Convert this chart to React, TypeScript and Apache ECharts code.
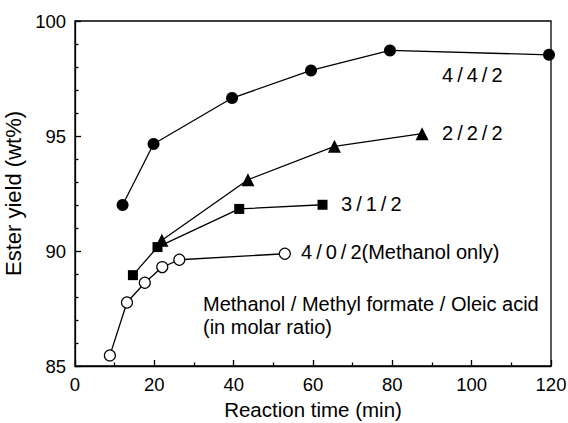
import React, { useEffect, useRef } from "react";
import * as echarts from "echarts";

const xTicks = [0, 20, 40, 60, 80, 100, 120];
const yTicks = [85, 90, 95, 100];

const s442: [number, number][] = [[12, 92.0], [19.8, 94.65], [39.6, 96.65], [59.5, 97.85], [79.4, 98.72], [119.5, 98.53]];
const s222: [number, number][] = [[21.9, 90.47], [43.6, 93.1], [65.4, 94.55], [87.5, 95.1]];
const s312: [number, number][] = [[14.6, 88.95], [20.8, 90.17], [41.4, 91.83], [62.4, 92.01]];
const s402: [number, number][] = [[8.8, 85.46], [13.1, 87.76], [17.6, 88.62], [22.0, 89.3], [26.3, 89.62], [52.9, 89.88]];

const seriesNames = ["4\u2009/\u20094\u2009/\u20092", "2\u2009/\u20092\u2009/\u20092", "3\u2009/\u20091\u2009/\u20092", "4\u2009/\u20090\u2009/\u20092"];
const noteLine1 = "Methanol / Methyl formate / Oleic acid";
const noteLine2 = "(in molar ratio)";
const methanolOnly = "(Methanol only)";

const FONT = "Liberation Sans, Arial, sans-serif";

export default function App() {
  const ref = useRef<HTMLDivElement>(null);
  useEffect(() => {
    if (!ref.current) return;
    const chart = echarts.init(ref.current, null, { renderer: "svg" });
    const line = { color: "#000", width: 1.3 };
    const txt = (x: number, y: number, t: string) => ({
      type: "text",
      x,
      y,
      style: { text: t, fill: "#000", font: `20px ${FONT}`, textVerticalAlign: "middle", verticalAlign: "middle" },
    });
    chart.setOption({
      animation: false,
      backgroundColor: "#fff",
      textStyle: { fontFamily: FONT },
      grid: {
        left: 75, right: 17, top: 21, bottom: 57,
        containLabel: false, outerBoundsMode: "none",
        show: true, borderColor: "#000", borderWidth: 1.3, backgroundColor: "transparent",
      },
      xAxis: {
        type: "value",
        min: xTicks[0],
        max: xTicks[xTicks.length - 1],
        interval: 20,
        name: "Reaction time (min)",
        nameLocation: "middle",
        nameGap: 31,
        nameTextStyle: { fontSize: 20.5, color: "#000", fontFamily: FONT },
        axisLine: { show: true, lineStyle: line },
        axisTick: { show: true, inside: true, length: 6, lineStyle: line },
        minorTick: { show: true, splitNumber: 2, length: 3.5, lineStyle: line },
        splitLine: { show: false },
        axisLabel: { fontSize: 18.5, color: "#000", margin: 9, fontFamily: FONT },
      },
      yAxis: {
        type: "value",
        min: yTicks[0],
        max: yTicks[yTicks.length - 1],
        interval: 5,
        name: "Ester yield (wt%)",
        nameLocation: "middle",
        nameGap: 38,
        nameTextStyle: { fontSize: 22, color: "#000", fontFamily: FONT },
        axisLine: { show: true, lineStyle: line },
        axisTick: { show: true, inside: true, length: 6, lineStyle: line },
        minorTick: { show: true, splitNumber: 5, length: 3.5, lineStyle: line },
        splitLine: { show: false },
        axisLabel: { fontSize: 18.5, color: "#000", margin: 9, fontFamily: FONT },
      },
      series: [
        { name: "442", type: "line", data: s442, symbol: "circle", symbolSize: 12, clip: false, lineStyle: line, itemStyle: { color: "#000" } },
        { name: "222", type: "line", data: s222, symbol: "triangle", symbolSize: 13, clip: false, lineStyle: line, itemStyle: { color: "#000" } },
        { name: "312", type: "line", data: s312, symbol: "rect", symbolSize: 10, clip: false, lineStyle: line, itemStyle: { color: "#000" } },
        { name: "402", type: "line", data: s402, symbol: "circle", symbolSize: 11, clip: false, lineStyle: line, itemStyle: { color: "#fff", borderColor: "#000", borderWidth: 1.2 } },
      ],
      graphic: [
        txt(442, 75, seriesNames[0]),
        txt(442, 133, seriesNames[1]),
        txt(341, 204, seriesNames[2]),
        txt(301, 252, seriesNames[3] + methanolOnly),
        txt(203, 304, noteLine1),
        txt(203, 327, noteLine2),
      ],
    });
    return () => chart.dispose();
  }, []);
  return <div ref={ref} style={{ position: "fixed", left: 0, top: 0, width: 568, height: 423 }} />;
}
